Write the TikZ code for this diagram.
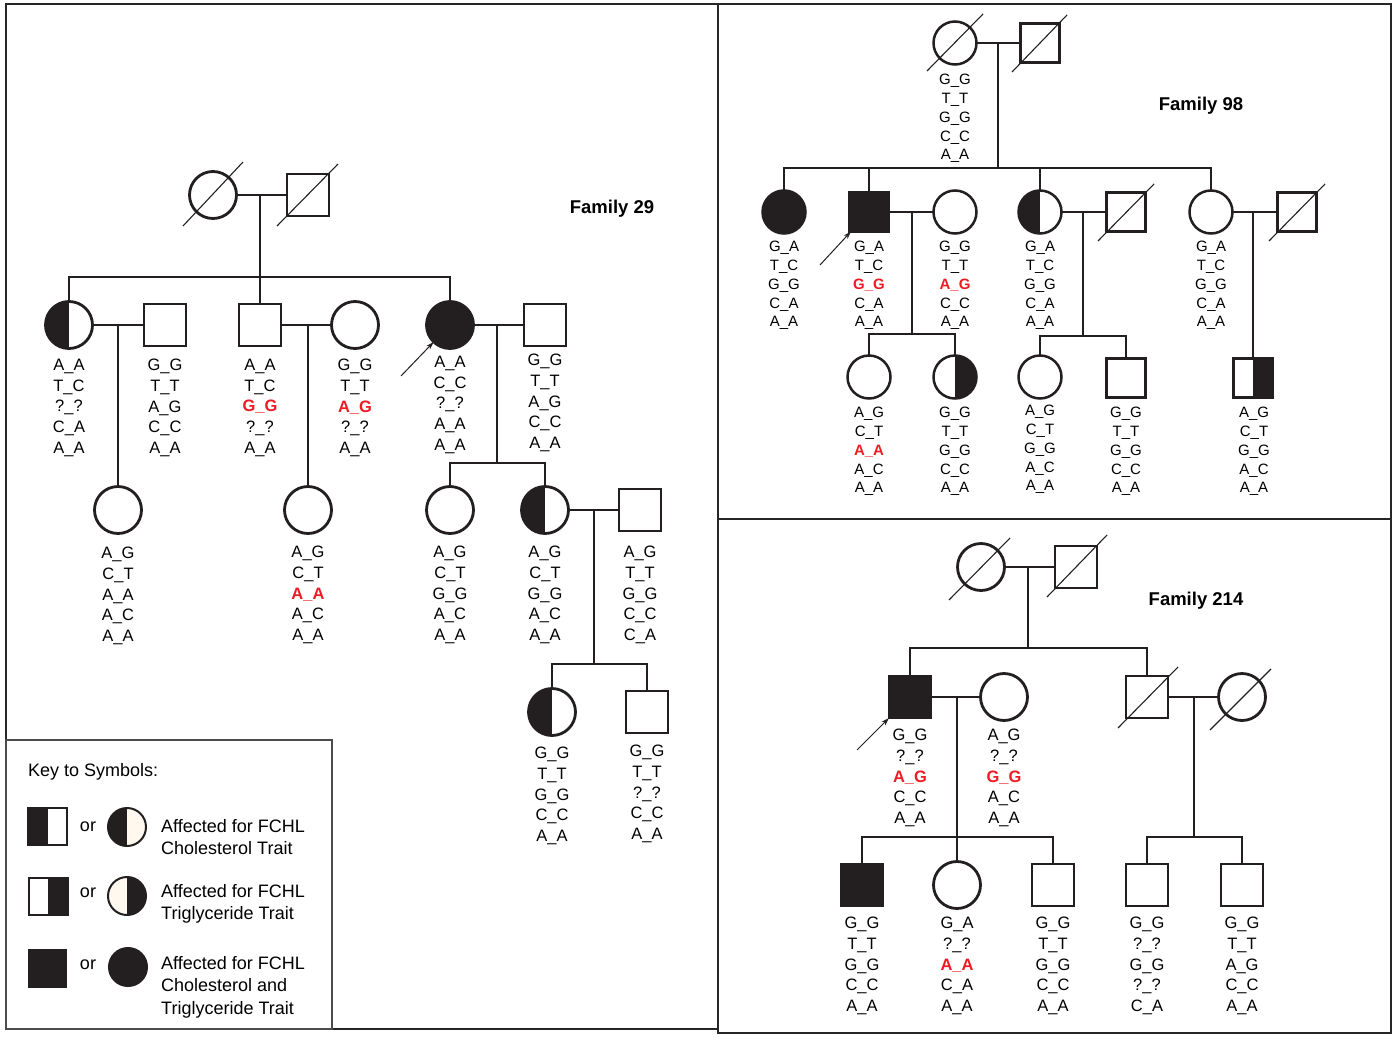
\documentclass[tikz,border=0pt]{standalone}
\usepackage{fontspec}
\setmainfont{Liberation Sans}
\usetikzlibrary{arrows.meta}
\definecolor{blk}{HTML}{231F20}
\definecolor{gred}{HTML}{ED1C24}
\definecolor{cream}{HTML}{FFF8EE}
\newcommand\rd[1]{\textcolor{gred}{\bfseries #1}}
\tikzset{
 ped/.style={line width=2.6pt, line join=miter, draw=blk},
 ped98/.style={line width=2.4pt, line join=miter, draw=blk},
 shp/.style={draw=blk, line width=2.8pt, fill=white, inner sep=0pt, outer sep=0pt},
 fem/.style={shp, circle, minimum size=47pt},
 mal/.style={shp, rectangle, minimum size=42pt},
 fems/.style={shp, circle, minimum size=43pt, line width=2.5pt},
 mals/.style={shp, rectangle, minimum size=39pt, line width=2.5pt},
 aff/.style={fill=blk},
 lh/.style={path picture={\fill[blk] (path picture bounding box.south west) rectangle (path picture bounding box.north);}},
 rh/.style={path picture={\fill[blk] (path picture bounding box.south east) rectangle (path picture bounding box.north);}},
 slash/.style={line width=1.1pt, draw=blk},
 gt/.style={anchor=north, inner sep=0pt, align=center, font=\fontsize{16.5pt}{20.7pt}\selectfont},
 gts/.style={anchor=north, inner sep=0pt, align=center, font=\fontsize{15pt}{18.8pt}\selectfont},
 fam/.style={font=\bfseries\fontsize{18.5pt}{22pt}\selectfont, inner sep=0pt},
 prob/.style={line width=1pt, draw=blk, -{Stealth[length=8pt,width=5pt]}},
 frame/.style={line width=1.8pt, draw=black!85},
 keytxt/.style={anchor=north west, inner sep=0pt, align=left, font=\fontsize{18pt}{22.5pt}\selectfont},
 ortxt/.style={inner sep=0pt, font=\fontsize{18pt}{22pt}\selectfont},
}
\begin{document}
\begin{tikzpicture}[x=1pt,y=-1pt]
\useasboundingbox (0,0) rectangle (1392,1036);
\fill[white] (0,0) rectangle (1392,1036);
% frames
\draw[frame] (6,4) rectangle (718,1029);
\draw[frame] (718,4) rectangle (1391,519);
\draw[frame] (718,519) rectangle (1391,1033);
\draw[line width=1.4pt, draw=black!70] (6,740) rectangle (332,1029);

% ================= Family 29 =================
\node[fam] (t29) at (612,209) {Family 29};
\node[fem] (f29gm) at (213,195) {};
\node[mal] (f29gf) at (308,195) {};
\node[fem,lh] (f29a) at (69,325) {};
\node[mal] (f29b) at (165,325) {};
\node[mal] (f29c) at (260,325) {};
\node[fem] (f29d) at (355,325) {};
\node[fem,aff] (f29e) at (450,325) {};
\node[mal] (f29f) at (545,325) {};
\node[fem] (f29g) at (118,510) {};
\node[fem] (f29h) at (308,510) {};
\node[fem] (f29i) at (450,510) {};
\node[fem,lh] (f29j) at (545,510) {};
\node[mal] (f29k) at (640,510) {};
\node[fem,lh] (f29l) at (552,712) {};
\node[mal] (f29m) at (647,712) {};
\draw[slash] (f29gm) ++(-30,31) -- ++(60,-64);
\draw[slash] (f29gf) ++(-31,31) -- ++(61,-62);

\coordinate (f29u0) at (260,195); \coordinate (f29v0) at (260,277);
\draw[ped] (f29gm) -- (f29gf);
\draw[ped] (f29u0) -- (f29c.north);
\draw[ped] (f29a.north) -- (f29a.north |- f29v0) -- (f29e.north |- f29v0) -- (f29e.north);
\coordinate (f29u1) at (118,325);
\draw[ped] (f29a) -- (f29b);
\draw[ped] (f29u1) -- (f29g.north);
\coordinate (f29u2) at (308,325);
\draw[ped] (f29c) -- (f29d);
\draw[ped] (f29u2) -- (f29h.north);
\coordinate (f29u3) at (497,325); \coordinate (f29v3) at (497,463);
\draw[ped] (f29e) -- (f29f);
\draw[ped] (f29u3) -- (f29v3);
\draw[ped] (f29i.north) -- (f29i.north |- f29v3) -- (f29j.north |- f29v3) -- (f29j.north);
\coordinate (f29u4) at (594,510); \coordinate (f29v4) at (594,664);
\draw[ped] (f29j) -- (f29k);
\draw[ped] (f29u4) -- (f29v4);
\draw[ped] (f29l.north) -- (f29l.north |- f29v4) -- (f29m.north |- f29v4) -- (f29m.north);
\coordinate (f29p) at (401,376);
\draw[prob] (f29p) -- (f29e);

\node[gt] (g29a) at (69,359) {A\_A\\T\_C\\?\_?\\C\_A\\A\_A};
\node[gt] (g29b) at (165,359) {G\_G\\T\_T\\A\_G\\C\_C\\A\_A};
\node[gt] (g29c) at (260,359) {A\_A\\T\_C\\\rd{G\_G}\\?\_?\\A\_A};
\node[gt] (g29d) at (355,359) {G\_G\\T\_T\\\rd{A\_G}\\?\_?\\A\_A};
\node[gt] (g29e) at (450,356) {A\_A\\C\_C\\?\_?\\A\_A\\A\_A};
\node[gt] (g29f) at (545,354) {G\_G\\T\_T\\A\_G\\C\_C\\A\_A};
\node[gt] (g29g) at (118,547) {A\_G\\C\_T\\A\_A\\A\_C\\A\_A};
\node[gt] (g29h) at (308,546) {A\_G\\C\_T\\\rd{A\_A}\\A\_C\\A\_A};
\node[gt] (g29i) at (450,546) {A\_G\\C\_T\\G\_G\\A\_C\\A\_A};
\node[gt] (g29j) at (545,546) {A\_G\\C\_T\\G\_G\\A\_C\\A\_A};
\node[gt] (g29k) at (640,546) {A\_G\\T\_T\\G\_G\\C\_C\\C\_A};
\node[gt] (g29l) at (552,747) {G\_G\\T\_T\\G\_G\\C\_C\\A\_A};
\node[gt] (g29m) at (647,745) {G\_G\\T\_T\\?\_?\\C\_C\\A\_A};

% ================= Key =================
\node[keytxt, anchor=base west] (kt) at (28,776.5) {Key to Symbols:};
\node[mal, line width=2pt, minimum width=39pt, minimum height=37pt, lh] (k1s) at (47.5,826.5) {};
\node[ortxt] (k1o) at (88,827) {or};
\node[fem, line width=2pt, minimum size=38pt, fill=cream, lh] (k1c) at (127,827) {};
\node[keytxt] (k1t) at (161,819) {Affected for FCHL\\Cholesterol Trait};
\node[mal, line width=2pt, minimum width=39pt, minimum height=37pt, rh] (k2s) at (48,896) {};
\node[ortxt] (k2o) at (88,893) {or};
\node[fem, line width=2pt, minimum size=38pt, fill=cream, rh] (k2c) at (127,896) {};
\node[keytxt] (k2t) at (161,884) {Affected for FCHL\\Triglyceride Trait};
\node[mal, line width=2pt, minimum width=37pt, minimum height=37pt, aff] (k3s) at (47,968) {};
\node[ortxt] (k3o) at (88,965) {or};
\node[fem, line width=2pt, minimum size=38pt, aff] (k3c) at (128,967) {};
\node[keytxt] (k3t) at (161,956) {Affected for FCHL\\Cholesterol and\\Triglyceride Trait};

% ================= Family 98 =================
\node[fam] (t98) at (1201,106) {Family 98};
\node[fems] (f98gm) at (955,43) {};
\node[mals] (f98gf) at (1040,43) {};
\draw[slash] (f98gm) ++(-28,28) -- ++(56,-57);
\draw[slash] (f98gf) ++(-28,29) -- ++(55,-57);
\node[fems,aff] (f98a) at (784,212) {};
\node[mals,aff] (f98b) at (869,212) {};
\node[fems] (f98c) at (955,212) {};
\node[fems,lh] (f98d) at (1040,212) {};
\node[mals] (f98e) at (1126,212) {};
\node[fems] (f98f) at (1211,212) {};
\node[mals] (f98k) at (1297,212) {};
\draw[slash] (f98e) ++(-28,29) -- ++(56,-57);
\draw[slash] (f98k) ++(-28,29) -- ++(56,-57);
\node[fems] (f98g) at (869,377) {};
\node[fems,rh] (f98h) at (955,377) {};
\node[fems] (f98i) at (1040,377) {};
\node[mals] (f98j) at (1126,378) {};
\node[mals,rh] (f98l) at (1253,378) {};

\coordinate (f98u0) at (998,43); \coordinate (f98v0) at (998,168);
\draw[ped98] (f98gm) -- (f98gf);
\draw[ped98] (f98u0) -- (f98v0);
\draw[ped98] (f98a.north) -- (f98a.north |- f98v0) -- (f98f.north |- f98v0) -- (f98f.north);
\draw[ped98] (f98b.north) -- (f98b.north |- f98v0);
\draw[ped98] (f98d.north) -- (f98d.north |- f98v0);
\coordinate (f98u1) at (912,212); \coordinate (f98v1) at (912,334);
\draw[ped98] (f98b) -- (f98c);
\draw[ped98] (f98u1) -- (f98v1);
\draw[ped98] (f98g.north) -- (f98g.north |- f98v1) -- (f98h.north |- f98v1) -- (f98h.north);
\coordinate (f98u2) at (1083,212); \coordinate (f98v2) at (1083,336);
\draw[ped98] (f98d) -- (f98e);
\draw[ped98] (f98u2) -- (f98v2);
\draw[ped98] (f98i.north) -- (f98i.north |- f98v2) -- (f98j.north |- f98v2) -- (f98j.north);
\coordinate (f98u3) at (1253,212);
\draw[ped98] (f98f) -- (f98k);
\draw[ped98] (f98u3) -- (f98l.north);
\coordinate (f98p) at (820,265);
\draw[prob] (f98p) -- (f98b);

\node[gts] (g98gm) at (955,74) {G\_G\\T\_T\\G\_G\\C\_C\\A\_A};
\node[gts] (g98a) at (784,241) {G\_A\\T\_C\\G\_G\\C\_A\\A\_A};
\node[gts] (g98b) at (869,241) {G\_A\\T\_C\\\rd{G\_G}\\C\_A\\A\_A};
\node[gts] (g98c) at (955,241) {G\_G\\T\_T\\\rd{A\_G}\\C\_C\\A\_A};
\node[gts] (g98d) at (1040,241) {G\_A\\T\_C\\G\_G\\C\_A\\A\_A};
\node[gts] (g98f) at (1211,241) {G\_A\\T\_C\\G\_G\\C\_A\\A\_A};
\node[gts] (g98g) at (869,407) {A\_G\\C\_T\\\rd{A\_A}\\A\_C\\A\_A};
\node[gts] (g98h) at (955,407) {G\_G\\T\_T\\G\_G\\C\_C\\A\_A};
\node[gts] (g98i) at (1040,405) {A\_G\\C\_T\\G\_G\\A\_C\\A\_A};
\node[gts] (g98j) at (1126,407) {G\_G\\T\_T\\G\_G\\C\_C\\A\_A};
\node[gts] (g98l) at (1254,407) {A\_G\\C\_T\\G\_G\\A\_C\\A\_A};

% ================= Family 214 =================
\node[fam] (t214) at (1196,601) {Family 214};
\node[fem] (f214gm) at (981,567) {};
\node[mal] (f214gf) at (1076,567) {};
\draw[slash] (f214gm) ++(-32,33) -- ++(61,-62);
\draw[slash] (f214gf) ++(-29,30) -- ++(60,-62);
\node[mal,aff] (f214a) at (910,697) {};
\node[fem] (f214b) at (1004,697) {};
\node[mal] (f214c) at (1147,697) {};
\node[fem] (f214d) at (1242,697) {};
\draw[slash] (f214c) ++(-29,31) -- ++(60,-61);
\draw[slash] (f214d) ++(-32,33) -- ++(61,-61);
\node[mal,aff] (f214e) at (862,885) {};
\node[fem] (f214f) at (957,885) {};
\node[mal] (f214g) at (1053,885) {};
\node[mal] (f214h) at (1147,885) {};
\node[mal] (f214i) at (1242,885) {};

\coordinate (f214u0) at (1028,567); \coordinate (f214v0) at (1028,648);
\draw[ped] (f214gm) -- (f214gf);
\draw[ped] (f214u0) -- (f214v0);
\draw[ped] (f214a.north) -- (f214a.north |- f214v0) -- (f214c.north |- f214v0) -- (f214c.north);
\coordinate (f214u1) at (957,697); \coordinate (f214v1) at (957,837);
\draw[ped] (f214a) -- (f214b);
\draw[ped] (f214u1) -- (f214f.north);
\draw[ped] (f214e.north) -- (f214e.north |- f214v1) -- (f214g.north |- f214v1) -- (f214g.north);
\coordinate (f214u2) at (1194,697); \coordinate (f214v2) at (1194,837);
\draw[ped] (f214c) -- (f214d);
\draw[ped] (f214u2) -- (f214v2);
\draw[ped] (f214h.north) -- (f214h.north |- f214v2) -- (f214i.north |- f214v2) -- (f214i.north);
\coordinate (f214p) at (857,750);
\draw[prob] (f214p) -- (f214a);

\node[gt] (g214a) at (910,729) {G\_G\\?\_?\\\rd{A\_G}\\C\_C\\A\_A};
\node[gt] (g214b) at (1004,729) {A\_G\\?\_?\\\rd{G\_G}\\A\_C\\A\_A};
\node[gt] (g214e) at (862,917) {G\_G\\T\_T\\G\_G\\C\_C\\A\_A};
\node[gt] (g214f) at (957,917) {G\_A\\?\_?\\\rd{A\_A}\\C\_A\\A\_A};
\node[gt] (g214g) at (1053,917) {G\_G\\T\_T\\G\_G\\C\_C\\A\_A};
\node[gt] (g214h) at (1147,917) {G\_G\\?\_?\\G\_G\\?\_?\\C\_A};
\node[gt] (g214i) at (1242,917) {G\_G\\T\_T\\A\_G\\C\_C\\A\_A};
\end{tikzpicture}
\end{document}
